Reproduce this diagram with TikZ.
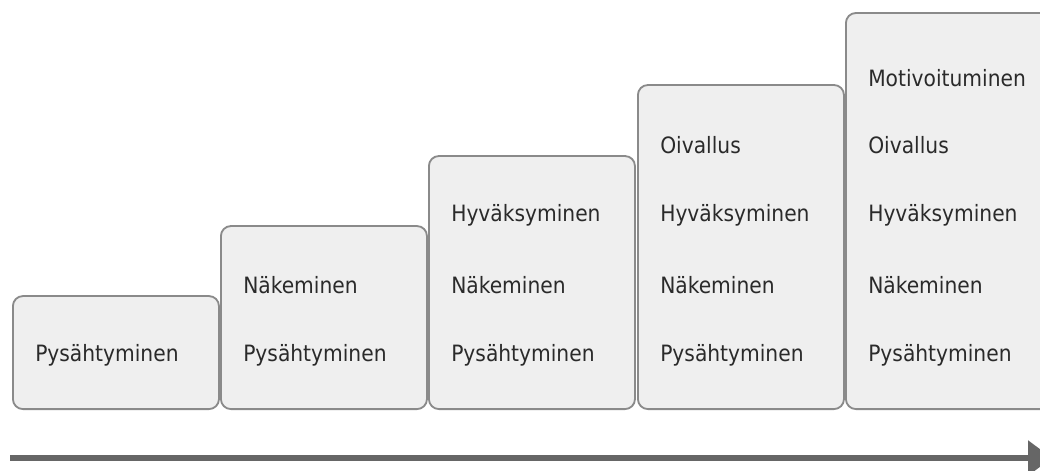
\documentclass[tikz,border=0pt]{standalone}
\usepackage{fontspec}
\newfontfamily\stagefont{DejaVu Sans Condensed}
\usetikzlibrary{arrows.meta}
\definecolor{boxfill}{HTML}{EFEFEF}
\definecolor{boxline}{HTML}{8A8A8A}
\definecolor{labeltext}{HTML}{2A2A2A}
\definecolor{arrowgray}{HTML}{666666}
\begin{document}
\begin{tikzpicture}[
        x=0.025cm, y=0.025cm,
        stage/.style={draw=boxline, fill=boxfill, line width=1.3pt, rounded corners=0.25cm,
          anchor=south west, minimum width=5.15cm, inner sep=0pt},
        lbl/.style={anchor=west, inner sep=0pt, text=labeltext,
          font=\stagefont\fontsize{16}{19}\selectfont},
        flow/.style={-{Triangle[length=0.6cm,width=0.85cm]}, line width=4pt, draw=arrowgray},
      ]
        \useasboundingbox (0,0) rectangle (1040,470);
        \clip (0,0) rectangle (1040,470);

        % Stages
        \node[stage, minimum height=2.825cm] (s1) at (12,60) {};
        \node[stage, minimum height=4.575cm] (s2) at (220,60) {};
        \node[stage, minimum height=6.325cm] (s3) at (428,60) {};
        \node[stage, minimum height=8.1cm] (s4) at (637,60) {};
        \node[stage, minimum height=9.9cm] (s5) at (845,60) {};

        % Stage 1
        \node[lbl] (p1) at (35,115) {Pysähtyminen};

        % Stage 2
        \node[lbl] (p2) at (243,115) {Pysähtyminen};
        \node[lbl] (n2) at (243,185) {Näkeminen};

        % Stage 3
        \node[lbl] (p3) at (451,115) {Pysähtyminen};
        \node[lbl] (n3) at (451,185) {Näkeminen};
        \node[lbl] (h3) at (451,255) {Hyväksyminen};

        % Stage 4
        \node[lbl] (p4) at (660,115) {Pysähtyminen};
        \node[lbl] (n4) at (660,185) {Näkeminen};
        \node[lbl] (h4) at (660,255) {Hyväksyminen};
        \node[lbl] (o4) at (660,325) {Oivallus};

        % Stage 5
        \node[lbl] (p5) at (868,115) {Pysähtyminen};
        \node[lbl] (n5) at (868,185) {Näkeminen};
        \node[lbl] (h5) at (868,255) {Hyväksyminen};
        \node[lbl] (o5) at (868,325) {Oivallus};
        \node[lbl] (m5) at (868,392) {Motivoituminen};

        % Progress arrow
        \coordinate (a0) at (10,12);
        \coordinate (a1) at (1052,12);
        \draw[flow] (a0) -- (a1);
      \end{tikzpicture}
\end{document}
